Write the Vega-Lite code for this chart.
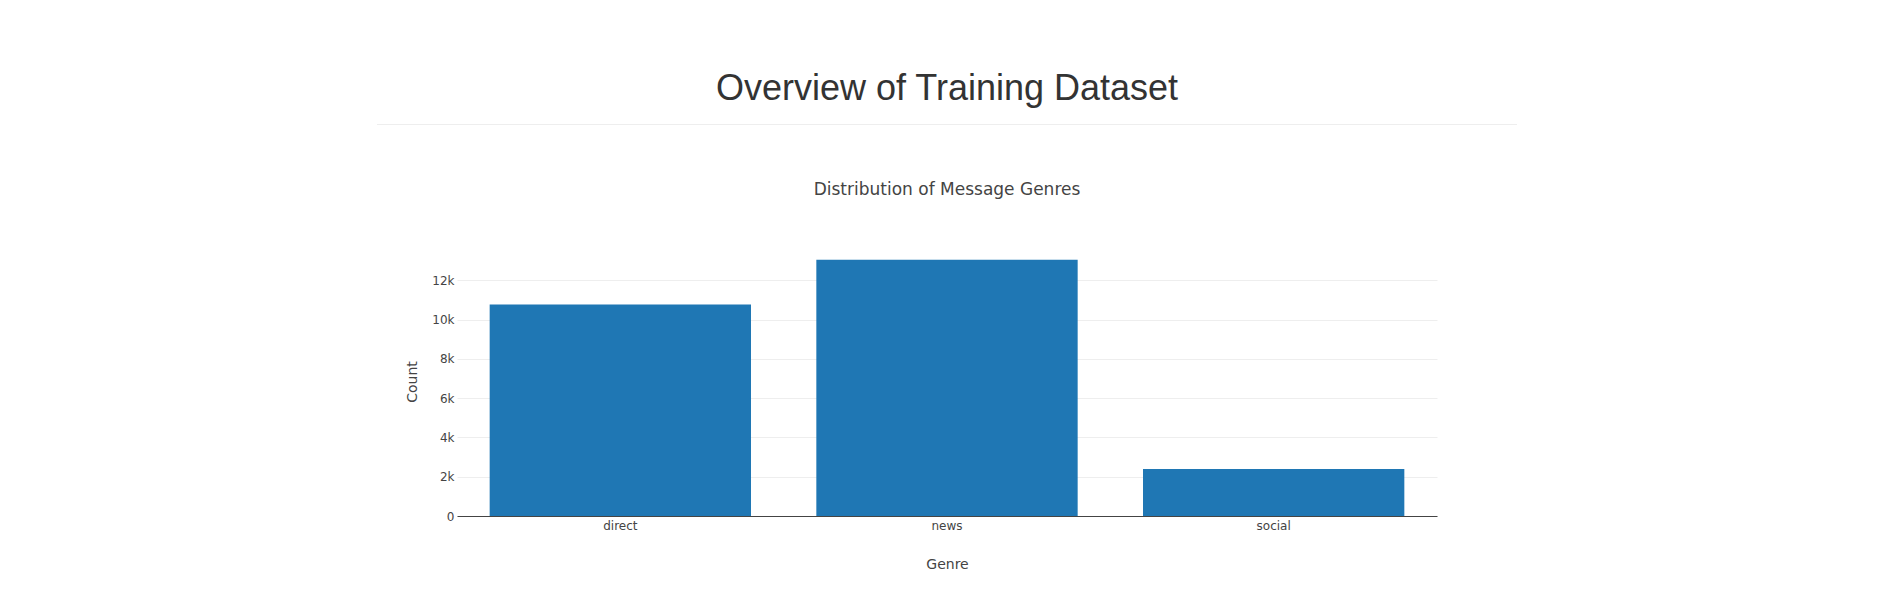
{
  "$schema": "https://vega.github.io/schema/vega-lite/v6.json",
  "padding": {"left": 376, "top": 70, "right": 0, "bottom": 0},
  "background": "white",
  "bounds": "flush",
  "center": true,
  "spacing": 122,
  "config": {
    "view": {"stroke": null},
    "font": "DejaVu Sans"
  },
  "vconcat": [
    {
      "width": 1140,
      "height": 1,
      "view": {"stroke": null, "fill": "#eeeeee"},
      "title": {
        "text": "Overview of Training Dataset",
        "font": "Liberation Sans",
        "fontSize": 36,
        "fontWeight": "normal",
        "color": "#333333",
        "anchor": "middle",
        "offset": 16
      },
      "data": {"values": [{"a": 1}]},
      "mark": {"type": "rule", "opacity": 0},
      "encoding": {}
    },
    {
      "width": 980,
      "height": 269,
      "title": {
        "text": "Distribution of Message Genres",
        "font": "DejaVu Sans",
        "fontSize": 17,
        "fontWeight": "normal",
        "color": "#444444",
        "anchor": "middle",
        "offset": 48
      },
      "data": {
        "values": [
          {"genre": "direct", "count": 10766},
          {"genre": "news", "count": 13054},
          {"genre": "social", "count": 2396}
        ]
      },
      "mark": {"type": "bar", "color": "#1f77b4"},
      "encoding": {
        "x": {
          "field": "genre",
          "type": "nominal",
          "sort": null,
          "title": "Genre",
          "scale": {"paddingInner": 0.2, "paddingOuter": 0.1},
          "axis": {
            "labelAngle": 0,
            "labelFont": "DejaVu Sans",
            "labelFontSize": 12,
            "labelColor": "#444444",
            "labelPadding": 4,
            "tickSize": 0,
            "domainColor": "#444444",
            "domainWidth": 1,
            "titleFont": "DejaVu Sans",
            "titleFontSize": 14,
            "titleFontWeight": "normal",
            "titleColor": "#444444",
            "titlePadding": 26
          }
        },
        "y": {
          "field": "count",
          "type": "quantitative",
          "title": "Count",
          "scale": {"domain": [0, 13700], "nice": false},
          "axis": {
            "values": [0, 2000, 4000, 6000, 8000, 10000, 12000],
            "format": "~s",
            "labelExpr": "datum.value === 0 ? '0' : datum.label",
            "labelFont": "DejaVu Sans",
            "labelFontSize": 12,
            "labelColor": "#444444",
            "labelPadding": 3,
            "tickSize": 0,
            "domain": false,
            "grid": true,
            "gridColor": "#eeeeee",
            "gridWidth": 1,
            "titleFont": "DejaVu Sans",
            "titleFontSize": 14,
            "titleFontWeight": "normal",
            "titleColor": "#444444",
            "titlePadding": 12
          }
        }
      }
    }
  ]
}
